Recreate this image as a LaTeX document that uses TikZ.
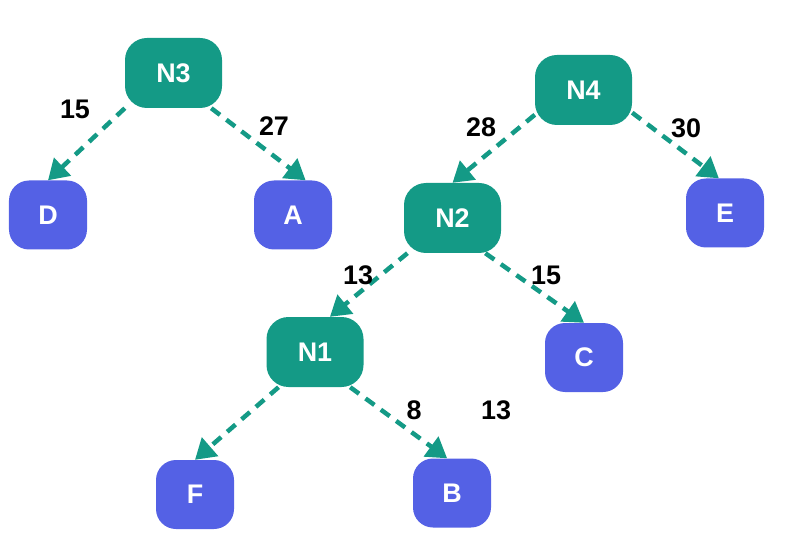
\documentclass[tikz,border=0pt]{standalone}
\usepackage{fontspec}
\setmainfont{Liberation Sans}
\usetikzlibrary{arrows.meta}
\definecolor{verde}{RGB}{20,154,134}
\definecolor{azul}{RGB}{84,97,229}
\begin{document}
\begin{tikzpicture}[x=1bp, y=-1bp,
  texto/.style={font=\bfseries\fontsize{27}{32}\selectfont},
  interno/.style={texto, fill=verde, text=white, rounded corners=22bp, inner sep=0pt,
    minimum width=97bp, minimum height=70bp},
  hoja/.style={texto, fill=azul, text=white, rounded corners=20bp, inner sep=0pt,
    minimum width=78bp, minimum height=69bp},
  peso/.style={texto, text=black},
  flecha/.style={draw=verde, line width=4.5bp, dash pattern=on 11bp off 8bp,
    -{Triangle[length=20bp, width=24bp]}}]
  \useasboundingbox (0,0) rectangle (794,552);
  % los nodos internos
  \foreach \n/\x/\y in {N3/173.5/73, N4/583.5/90, N2/452.5/218, N1/315/352} {
    \node[interno] (\n) at (\x,\y) {\n};
  }
  % las hojas
  \foreach \n/\x/\y in {D/48/215, A/293/215, E/725/213, C/584/357.5, F/195/494.5, B/452/493} {
    \node[hoja] (\n) at (\x,\y) {\n};
  }
  % las flechas, de padre a hijo
  \foreach \a/\b in {N3.south west/D.north, N3.-43/A.70, N4.207/N2.north, N4.-25/E.100,
                     N2.218/N1.67, N2.-47/C.north, N1.224/F.north, N1.-45/B.98} {
    \draw[flecha] (\a) -- (\b);
  }
  % los pesos
  \foreach \n/\x/\y/\t in {pa/75/109/15, pb/274/126/27, pc/481/127/28, pd/686/128/30,
                           pe/358/275/13, pf/546/275/15, pg/414/410/8, ph/496/410/13} {
    \node[peso] (\n) at (\x,\y) {\t};
  }
\end{tikzpicture}
\end{document}
